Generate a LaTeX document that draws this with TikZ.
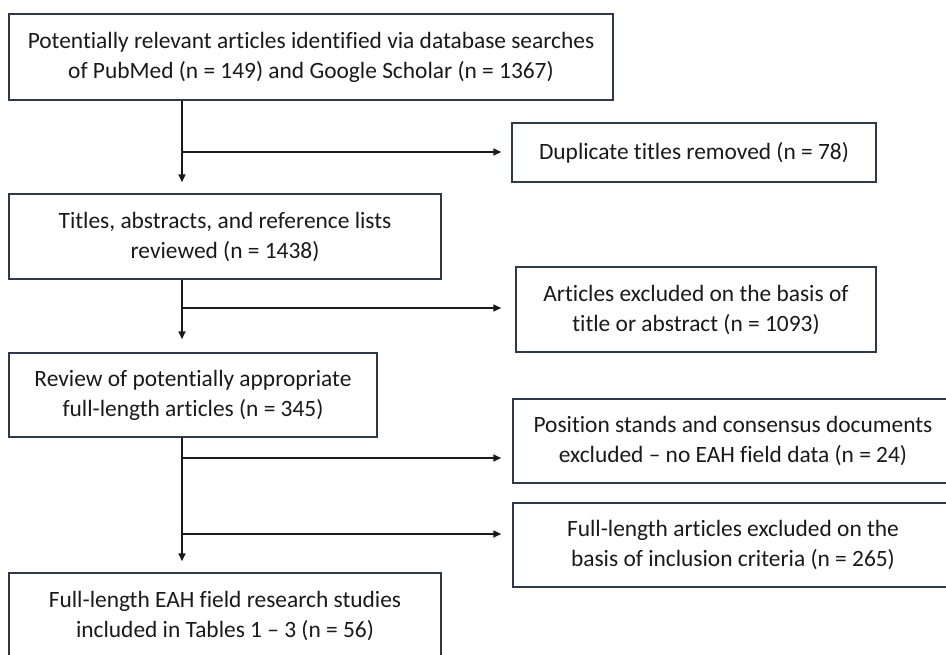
\documentclass[tikz,border=0pt]{standalone}
\usepackage{fontspec}
\setmainfont{Carlito}[Ligatures={NoCommon,NoContextual}]
\usetikzlibrary{arrows.meta}
\definecolor{boxline}{HTML}{2E3A4A}
\definecolor{txt}{HTML}{1A1A1A}
\begin{document}
\begin{tikzpicture}[x=1pt,y=-1pt,
  box/.style={draw=boxline, line width=1.5pt, rectangle, inner sep=0pt, align=center,
    text=txt, font=\fontsize{23.4}{30}\selectfont},
  arr/.style={draw=txt, line width=1.6pt, -{Triangle[length=8pt,width=7pt]}}]
\useasboundingbox (0,0) rectangle (946,654);
\fill[white] (0,0) rectangle (946,654);
\begin{scope}
\clip (0,0) rectangle (946,654);
\node[box, minimum width=604pt, minimum height=86pt] (B1) at (311,57)
  {Potentially relevant articles identified via database searches\\of PubMed (n = 149) and Google Scholar (n = 1367)};
\node[box, minimum width=364pt, minimum height=59pt] (B2) at (694,152.5)
  {Duplicate titles removed (n = 78)};
\node[box, minimum width=432pt, minimum height=85pt] (B3) at (225,236.5)
  {Titles, abstracts, and reference lists\\reviewed (n = 1438)};
\node[box, minimum width=360pt, minimum height=85pt] (B4) at (696,309.5)
  {Articles excluded on the basis of\\title or abstract (n = 1093)};
\node[box, minimum width=368pt, minimum height=84pt] (B5) at (193,395)
  {Review of potentially appropriate\\full-length articles (n = 345)};
\node[box, minimum width=440pt, minimum height=84pt] (B6) at (733,441)
  {Position stands and consensus documents\\excluded -- no EAH field data (n = 24)};
\node[box, minimum width=440pt, minimum height=84pt] (B7) at (733,545)
  {Full-length articles excluded on the\\basis of inclusion criteria (n = 265)};
\node[box, minimum width=432pt, minimum height=85pt] (B8) at (225,615.5)
  {Full-length EAH field research studies\\included in Tables 1 -- 3 (n = 56)};
\end{scope}
\coordinate (sp) at (182,0);
\coordinate (h1) at (182,152);
\coordinate (h2) at (182,308);
\coordinate (h3) at (182,458);
\coordinate (h4) at (182,534);
\draw[arr, shorten >=11pt] (B1.south -| sp) -- (B3.north -| sp);
\draw[arr, shorten >=10pt] (h1) -- (h1 -| B2.west);
\draw[arr, shorten >=13pt] (B3.south -| sp) -- (B5.north -| sp);
\draw[arr, shorten >=14pt] (h2) -- (h2 -| B4.west);
\draw[arr, shorten >=11pt] (B5.south -| sp) -- (B8.north -| sp);
\draw[arr, shorten >=11pt] (h3) -- (h3 -| B6.west);
\draw[arr, shorten >=11pt] (h4) -- (h4 -| B7.west);
\end{tikzpicture}
\end{document}
